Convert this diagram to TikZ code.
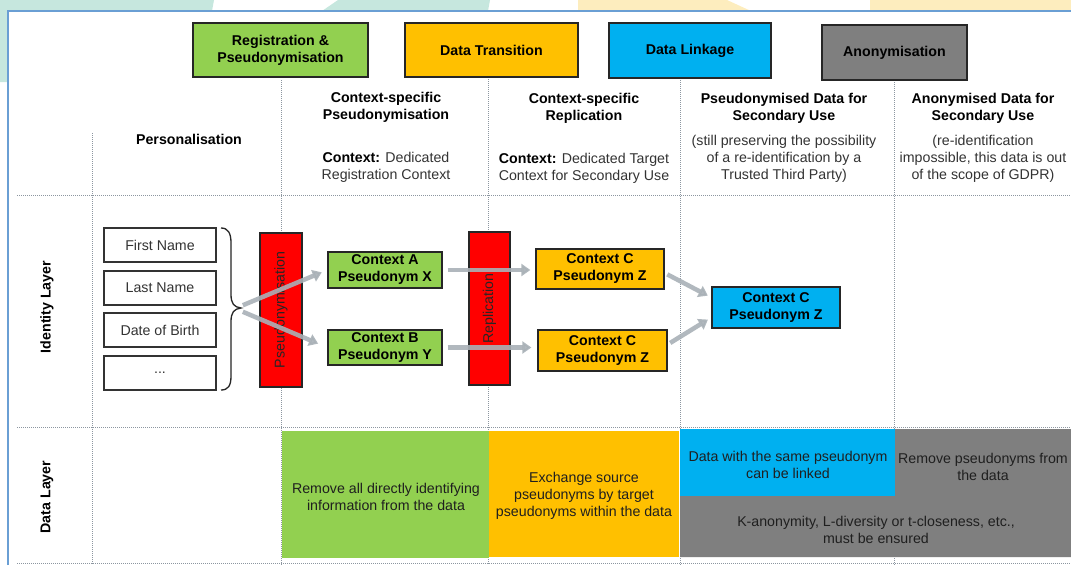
\documentclass[tikz,border=0pt]{standalone}
\usepackage{fontspec}
\setmainfont{Liberation Sans}
\usetikzlibrary{arrows.meta,calc}
\definecolor{greenC}{HTML}{92D050}
\definecolor{orangeC}{HTML}{FFC000}
\definecolor{blueC}{HTML}{00B0F0}
\definecolor{greyC}{HTML}{7F7F7F}
\definecolor{redC}{HTML}{FF0000}
\definecolor{arrowC}{HTML}{A9B1B7}
\definecolor{dotC}{HTML}{8C96A0}
\definecolor{tealC}{HTML}{C6E7DE}
\definecolor{yellowC}{HTML}{FDEDBE}
\definecolor{frameC}{HTML}{6A9FD4}
\definecolor{txtC}{HTML}{333333}
\tikzset{
  base/.style={font=\fontsize{14.2}{17}\selectfont, align=center, inner sep=0pt},
  hbox/.style={base, draw=black!85, line width=1.4pt, font=\fontsize{14.2}{17}\selectfont\bfseries},
  fieldbox/.style={base, draw=black!80, line width=1.3pt, fill=white, minimum width=112pt, minimum height=34pt, text=txtC},
  redbar/.style={base, draw=black!85, line width=1.3pt, fill=redC},
  pbox/.style={base, draw=black!85, line width=1.3pt, font=\fontsize{14.2}{17}\selectfont\bfseries},
  headtxt/.style={base, font=\fontsize{14.2}{17}\selectfont\bfseries},
  subtxt/.style={base, text=txtC},
  datatxt/.style={base, text=black!88},
  dotline/.style={draw=dotC, line width=1pt, dash pattern=on 1pt off 1pt},
  garrow/.style={draw=arrowC, line width=4.5pt, opacity=0.9, -{Triangle[length=9pt,width=12pt]}},
  layerlbl/.style={base, rotate=90, font=\fontsize{14.2}{17}\selectfont\bfseries}
}
\begin{document}
\begin{tikzpicture}[x=1pt,y=-1pt]
\useasboundingbox (0,0) rectangle (1071,565);
% background decorations
\fill[tealC] (0,0) -- (214,0) -- (212,11) -- (8,11) -- (8,82) -- (0,82) -- cycle;
\fill[tealC] (338,0) -- (490,0) -- (488,11) -- (322,11) -- cycle;
\fill[yellowC] (578,0) -- (727,0) -- (751,11) -- (578,11) -- cycle;
\fill[yellowC] (870,0) -- (1071,0) -- (1071,11) -- (870,11) -- cycle;
% frame
\fill[white] (8,11) rectangle (1071,565);
\draw[frameC, line width=2pt] (8,565) -- (8,11) -- (1071,11);
% dotted grid
\draw[dotline] (17,195) -- (1071,195);
\draw[dotline] (17,427) -- (1071,427);
\draw[dotline] (17,563) -- (1071,563);
\draw[dotline] (92,133) -- (92,565);
\draw[dotline] (281,80) -- (281,565);
\draw[dotline] (488,79) -- (488,565);
\draw[dotline] (680,78) -- (680,565);
\draw[dotline] (894,80) -- (894,565);
% header boxes
\node[hbox, fill=greenC, minimum width=175pt, minimum height=54pt] (h1) at (280.5,50) {Registration \&\\Pseudonymisation};
\node[hbox, fill=orangeC, minimum width=173pt, minimum height=54pt] (h2) at (491.5,50) {Data Transition};
\node[hbox, fill=blueC, minimum width=162pt, minimum height=55pt] (h3) at (690,50.5) {Data Linkage};
\node[hbox, fill=greyC, minimum width=145pt, minimum height=55pt] (h4) at (894.5,52.5) {Anonymisation};
% header texts
\node[headtxt] (t0) at (189,139.5) {Personalisation};
\node[headtxt] (t1) at (386,107) {Context-specific\\Pseudonymisation};
\node[subtxt] (s1) at (386,167) {\textbf{\color{black}Context:} Dedicated\\Registration Context};
\node[headtxt] (t2) at (584,108) {Context-specific\\Replication};
\node[subtxt] (s2) at (584,168) {\textbf{\color{black}Context:} Dedicated Target\\Context for Secondary Use};
\node[headtxt] (t3) at (784,108) {Pseudonymised Data for\\Secondary Use};
\node[subtxt] (s3) at (784,158.5) {(still preserving the possibility\\of a re-identification by a\\Trusted Third Party)};
\node[headtxt] (t4) at (983,108) {Anonymised Data for\\Secondary Use};
\node[subtxt] (s4) at (983,158.5) {(re-identification\\impossible, this data is out\\of the scope of GDPR)};
% layer labels
\node[layerlbl] (il) at (47,307) {Identity Layer};
\node[layerlbl] (dl) at (47,497) {Data Layer};
% identity fields
\node[fieldbox] (fn) at (160,245) {First Name};
\node[fieldbox] (ln) at (160,288) {Last Name};
\node[fieldbox] (db) at (160,330) {Date of Birth};
\node[fieldbox] (dd) at (160,373) {...};
% brace
\coordinate (tip) at (241,308);
\draw[black!85, line width=1.3pt] (221,228) .. controls (228,228) and (231,233) .. (231,243) -- (231,294) .. controls (231,304) and (234,307) .. (tip) .. controls (234,309) and (231,312) .. (231,322) -- (231,376) .. controls (231,386) and (228,390) .. (221,390);
% red bars
\node[redbar, minimum width=42pt, minimum height=154pt] (ps) at (281,310) {};
\node[base, rotate=90, text=black!85] at (ps.center) {Pseudonymisation};
\node[redbar, minimum width=41pt, minimum height=153pt] (rep) at (489.5,308.5) {};
\node[base, rotate=90, text=black!85] at (rep.center) {Replication};
% pseudonym boxes
\node[pbox, fill=greenC, minimum width=114pt, minimum height=36pt] (ca) at (385,270) {Context A\\Pseudonym X};
\node[pbox, fill=greenC, minimum width=114pt, minimum height=35pt] (cb) at (385,347.5) {Context B\\Pseudonym Y};
\node[pbox, fill=orangeC, minimum width=128pt, minimum height=40pt] (oc1) at (600,269) {Context C\\Pseudonym Z};
\node[pbox, fill=orangeC, minimum width=129pt, minimum height=41pt] (oc2) at (602.5,350.5) {Context C\\Pseudonym Z};
\node[pbox, fill=blueC, minimum width=128pt, minimum height=41pt] (bl) at (776,307.5) {Context C\\Pseudonym Z};
% arrows
\draw[garrow, shorten <=2pt, shorten >=6pt] ([yshift=2pt]tip) -- (ca.west);
\draw[garrow, shorten <=2pt, shorten >=10pt] ([yshift=-3pt]tip) -- (cb.west);
\draw[garrow, shorten <=5pt, shorten >=5pt] (ca.east) -- (oc1.west |- ca.east);
\draw[garrow, shorten <=5pt, shorten >=6pt] (cb.east) -- (oc2.west |- cb.east);
\draw[garrow, shorten <=3pt, shorten >=4pt] ([yshift=-4pt]oc1.east) -- ([yshift=10pt]bl.west);
\draw[garrow, shorten <=3pt, shorten >=4pt] ([yshift=6pt]oc2.east) -- ([yshift=-10pt]bl.west);
% data layer
\fill[greenC] (282,431) rectangle (489,558);
\fill[orangeC] (489,431) rectangle (679,557);
\fill[greyC] (895,429) -- (1071,429) -- (1071,557) -- (680,557) -- (680,496) -- (895,496) -- cycle;
\fill[blueC] (680,429) rectangle (895,496);
\node[datatxt] (d1) at (386,497) {Remove all directly identifying\\information from the data};
\node[datatxt] (d2) at (584,496) {Exchange source\\pseudonyms by target\\pseudonyms within the data};
\node[datatxt] (d3) at (788,465) {Data with the same pseudonym\\can be linked};
\node[datatxt] (d4) at (983,466.5) {Remove pseudonyms from\\the data};
\node[datatxt] (d5) at (876,529.5) {K-anonymity, L-diversity or t-closeness, etc.,\\must be ensured};
\end{tikzpicture}
\end{document}
